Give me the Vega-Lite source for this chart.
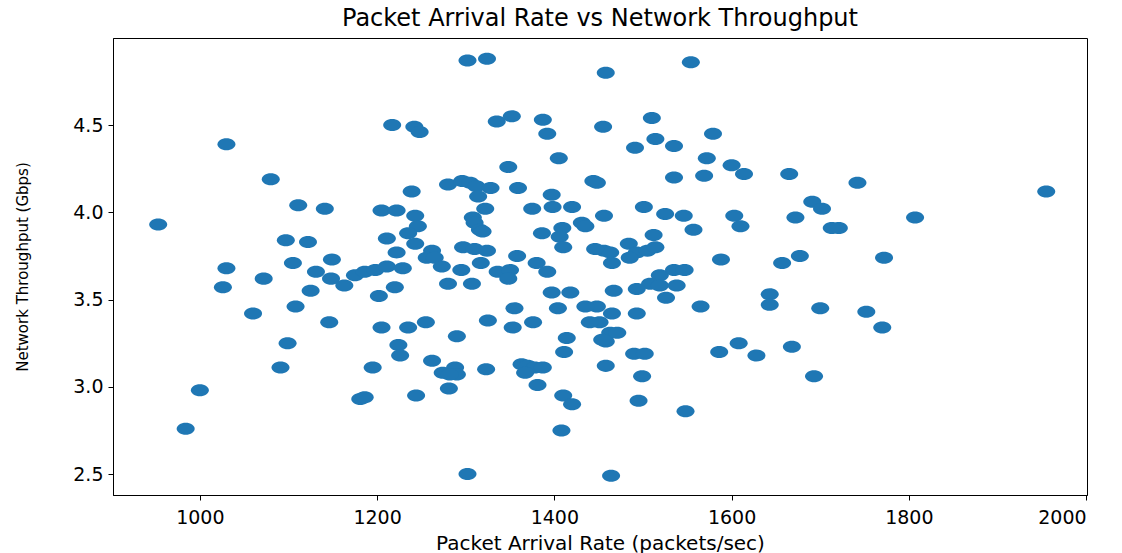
{
  "$schema": "https://vega.github.io/schema/vega-lite/v6.json",
  "width": 974,
  "height": 457,
  "autosize": "none",
  "padding": {"left": 113, "top": 38, "right": 35, "bottom": 58},
  "background": "white",
  "title": {"text": "Packet Arrival Rate vs Network Throughput", "font": "DejaVu Sans", "fontSize": 24, "fontWeight": "normal", "color": "#000", "offset": 7},
  "data": {"values": [
    {"rate": 1030, "tput": 4.39}, {"rate": 1080, "tput": 4.19},
    {"rate": 1302, "tput": 4.87}, {"rate": 1324, "tput": 4.88}, {"rate": 1458, "tput": 4.80}, {"rate": 1554, "tput": 4.86},
    {"rate": 1217, "tput": 4.50}, {"rate": 1242, "tput": 4.49}, {"rate": 1248, "tput": 4.46}, {"rate": 1335, "tput": 4.52},
    {"rate": 1352, "tput": 4.55}, {"rate": 1387, "tput": 4.53}, {"rate": 1392, "tput": 4.45}, {"rate": 1455, "tput": 4.49},
    {"rate": 1405, "tput": 4.31}, {"rate": 1348, "tput": 4.26}, {"rate": 1280, "tput": 4.16}, {"rate": 1296, "tput": 4.18},
    {"rate": 1305, "tput": 4.17}, {"rate": 1312, "tput": 4.15}, {"rate": 1239, "tput": 4.12}, {"rate": 1328, "tput": 4.14},
    {"rate": 1359, "tput": 4.14}, {"rate": 1444, "tput": 4.18}, {"rate": 1397, "tput": 4.10},
    {"rate": 1510, "tput": 4.54}, {"rate": 1514, "tput": 4.42}, {"rate": 1491, "tput": 4.37}, {"rate": 1535, "tput": 4.38},
    {"rate": 1579, "tput": 4.45}, {"rate": 1572, "tput": 4.31}, {"rate": 1600, "tput": 4.27}, {"rate": 1614, "tput": 4.22},
    {"rate": 1535, "tput": 4.20}, {"rate": 1569, "tput": 4.21}, {"rate": 1665, "tput": 4.22}, {"rate": 1448, "tput": 4.17},
    {"rate": 1742, "tput": 4.17}, {"rate": 1955, "tput": 4.12},
    {"rate": 953, "tput": 3.93}, {"rate": 1111, "tput": 4.04}, {"rate": 1141, "tput": 4.02}, {"rate": 1097, "tput": 3.84},
    {"rate": 1122, "tput": 3.83}, {"rate": 1105, "tput": 3.71}, {"rate": 1149, "tput": 3.73}, {"rate": 1131, "tput": 3.66},
    {"rate": 1148, "tput": 3.62}, {"rate": 1163, "tput": 3.58}, {"rate": 1030, "tput": 3.68}, {"rate": 1026, "tput": 3.57},
    {"rate": 1072, "tput": 3.62}, {"rate": 1125, "tput": 3.55}, {"rate": 1108, "tput": 3.46}, {"rate": 1060, "tput": 3.42},
    {"rate": 1146, "tput": 3.37}, {"rate": 1099, "tput": 3.25}, {"rate": 1091, "tput": 3.11}, {"rate": 1000, "tput": 2.98},
    {"rate": 984, "tput": 2.76}, {"rate": 1181, "tput": 2.93}, {"rate": 1186, "tput": 2.94},
    {"rate": 1224, "tput": 3.24}, {"rate": 1226, "tput": 3.18}, {"rate": 1195, "tput": 3.11}, {"rate": 1262, "tput": 3.15},
    {"rate": 1274, "tput": 3.08}, {"rate": 1288, "tput": 3.11}, {"rate": 1290, "tput": 3.07}, {"rate": 1282, "tput": 3.07},
    {"rate": 1323, "tput": 3.10}, {"rate": 1281, "tput": 2.99}, {"rate": 1244, "tput": 2.95},
    {"rate": 1363, "tput": 3.13}, {"rate": 1370, "tput": 3.12}, {"rate": 1378, "tput": 3.11}, {"rate": 1367, "tput": 3.08},
    {"rate": 1387, "tput": 3.11}, {"rate": 1381, "tput": 3.01}, {"rate": 1411, "tput": 3.20}, {"rate": 1410, "tput": 2.95},
    {"rate": 1420, "tput": 2.90}, {"rate": 1408, "tput": 2.75}, {"rate": 1302, "tput": 2.50},
    {"rate": 1458, "tput": 3.26}, {"rate": 1490, "tput": 3.19}, {"rate": 1502, "tput": 3.19}, {"rate": 1458, "tput": 3.12},
    {"rate": 1499, "tput": 3.06}, {"rate": 1495, "tput": 2.92}, {"rate": 1548, "tput": 2.86}, {"rate": 1586, "tput": 3.20},
    {"rate": 1608, "tput": 3.25}, {"rate": 1628, "tput": 3.18}, {"rate": 1668, "tput": 3.23}, {"rate": 1693, "tput": 3.06},
    {"rate": 1464, "tput": 2.49},
    {"rate": 1807, "tput": 3.97}, {"rate": 1721, "tput": 3.91}, {"rate": 1772, "tput": 3.74}, {"rate": 1752, "tput": 3.43},
    {"rate": 1770, "tput": 3.34},
    {"rate": 1456, "tput": 3.98}, {"rate": 1501, "tput": 4.03}, {"rate": 1525, "tput": 3.99}, {"rate": 1546, "tput": 3.98},
    {"rate": 1557, "tput": 3.90}, {"rate": 1603, "tput": 3.98}, {"rate": 1610, "tput": 3.92}, {"rate": 1691, "tput": 4.06},
    {"rate": 1702, "tput": 4.02}, {"rate": 1672, "tput": 3.97}, {"rate": 1713, "tput": 3.91}, {"rate": 1512, "tput": 3.87},
    {"rate": 1484, "tput": 3.82}, {"rate": 1456, "tput": 3.78}, {"rate": 1463, "tput": 3.77}, {"rate": 1493, "tput": 3.77},
    {"rate": 1505, "tput": 3.78}, {"rate": 1514, "tput": 3.80}, {"rate": 1485, "tput": 3.74}, {"rate": 1465, "tput": 3.71},
    {"rate": 1588, "tput": 3.73}, {"rate": 1657, "tput": 3.71}, {"rate": 1677, "tput": 3.75}, {"rate": 1519, "tput": 3.64},
    {"rate": 1535, "tput": 3.67}, {"rate": 1547, "tput": 3.67}, {"rate": 1508, "tput": 3.59}, {"rate": 1519, "tput": 3.58},
    {"rate": 1538, "tput": 3.58}, {"rate": 1493, "tput": 3.56}, {"rate": 1467, "tput": 3.55}, {"rate": 1526, "tput": 3.51},
    {"rate": 1565, "tput": 3.46}, {"rate": 1643, "tput": 3.53}, {"rate": 1643, "tput": 3.47}, {"rate": 1700, "tput": 3.45},
    {"rate": 1448, "tput": 3.46}, {"rate": 1465, "tput": 3.42}, {"rate": 1493, "tput": 3.42}, {"rate": 1463, "tput": 3.31},
    {"rate": 1471, "tput": 3.31}, {"rate": 1451, "tput": 3.37},
    {"rate": 1314, "tput": 4.09}, {"rate": 1205, "tput": 4.01}, {"rate": 1222, "tput": 4.01}, {"rate": 1243, "tput": 3.98},
    {"rate": 1322, "tput": 4.02}, {"rate": 1375, "tput": 4.02}, {"rate": 1398, "tput": 4.03}, {"rate": 1420, "tput": 4.03},
    {"rate": 1308, "tput": 3.97}, {"rate": 1310, "tput": 3.94}, {"rate": 1316, "tput": 3.90}, {"rate": 1319, "tput": 3.89},
    {"rate": 1246, "tput": 3.92}, {"rate": 1235, "tput": 3.88}, {"rate": 1211, "tput": 3.85}, {"rate": 1243, "tput": 3.82},
    {"rate": 1386, "tput": 3.88}, {"rate": 1409, "tput": 3.91}, {"rate": 1406, "tput": 3.86}, {"rate": 1410, "tput": 3.80},
    {"rate": 1431, "tput": 3.94}, {"rate": 1435, "tput": 3.92}, {"rate": 1446, "tput": 3.79}, {"rate": 1222, "tput": 3.77},
    {"rate": 1262, "tput": 3.78}, {"rate": 1256, "tput": 3.74}, {"rate": 1265, "tput": 3.74}, {"rate": 1297, "tput": 3.80},
    {"rate": 1310, "tput": 3.79}, {"rate": 1324, "tput": 3.78}, {"rate": 1317, "tput": 3.71}, {"rate": 1358, "tput": 3.75},
    {"rate": 1380, "tput": 3.71}, {"rate": 1392, "tput": 3.66}, {"rate": 1175, "tput": 3.64}, {"rate": 1186, "tput": 3.66},
    {"rate": 1198, "tput": 3.67}, {"rate": 1211, "tput": 3.69}, {"rate": 1229, "tput": 3.68}, {"rate": 1273, "tput": 3.69},
    {"rate": 1295, "tput": 3.67}, {"rate": 1336, "tput": 3.66}, {"rate": 1350, "tput": 3.67}, {"rate": 1348, "tput": 3.62},
    {"rate": 1220, "tput": 3.57}, {"rate": 1202, "tput": 3.52}, {"rate": 1280, "tput": 3.59}, {"rate": 1307, "tput": 3.59},
    {"rate": 1397, "tput": 3.54}, {"rate": 1418, "tput": 3.54}, {"rate": 1355, "tput": 3.45}, {"rate": 1404, "tput": 3.45},
    {"rate": 1435, "tput": 3.46}, {"rate": 1205, "tput": 3.34}, {"rate": 1235, "tput": 3.34}, {"rate": 1255, "tput": 3.37},
    {"rate": 1325, "tput": 3.38}, {"rate": 1353, "tput": 3.34}, {"rate": 1376, "tput": 3.37}, {"rate": 1440, "tput": 3.37},
    {"rate": 1290, "tput": 3.29}, {"rate": 1414, "tput": 3.28}, {"rate": 1454, "tput": 3.27}
  ]},
  "mark": {"type": "point", "filled": true, "opacity": 1, "color": "#1f77b4", "size": 324, "shape": "M-1,0A1,0.667,0,1,1,1,0A1,0.667,0,1,1,-1,0Z"},
  "encoding": {
    "x": {"field": "rate", "type": "quantitative", "scale": {"domain": [902, 2001], "nice": false, "zero": false},
      "axis": {"title": "Packet Arrival Rate (packets/sec)", "values": [1000, 1200, 1400, 1600, 1800, 2000], "format": "d", "grid": false, "labelPadding": 8, "titlePadding": 6}},
    "y": {"field": "tput", "type": "quantitative", "scale": {"domain": [2.38, 4.999], "nice": false, "zero": false},
      "axis": {"title": "Network Throughput (Gbps)", "values": [2.5, 3.0, 3.5, 4.0, 4.5], "format": ".1f", "grid": false, "titleFontSize": 15, "titlePadding": 42}}
  },
  "config": {
    "view": {"stroke": "#000", "strokeWidth": 1},
    "axis": {"domainColor": "#000", "tickColor": "#000", "tickSize": 5, "labelColor": "#000", "titleColor": "#000",
      "labelFont": "DejaVu Sans", "titleFont": "DejaVu Sans", "labelFontSize": 19, "titleFontSize": 20, "titleFontWeight": "normal", "labelPadding": 5}
  }
}
